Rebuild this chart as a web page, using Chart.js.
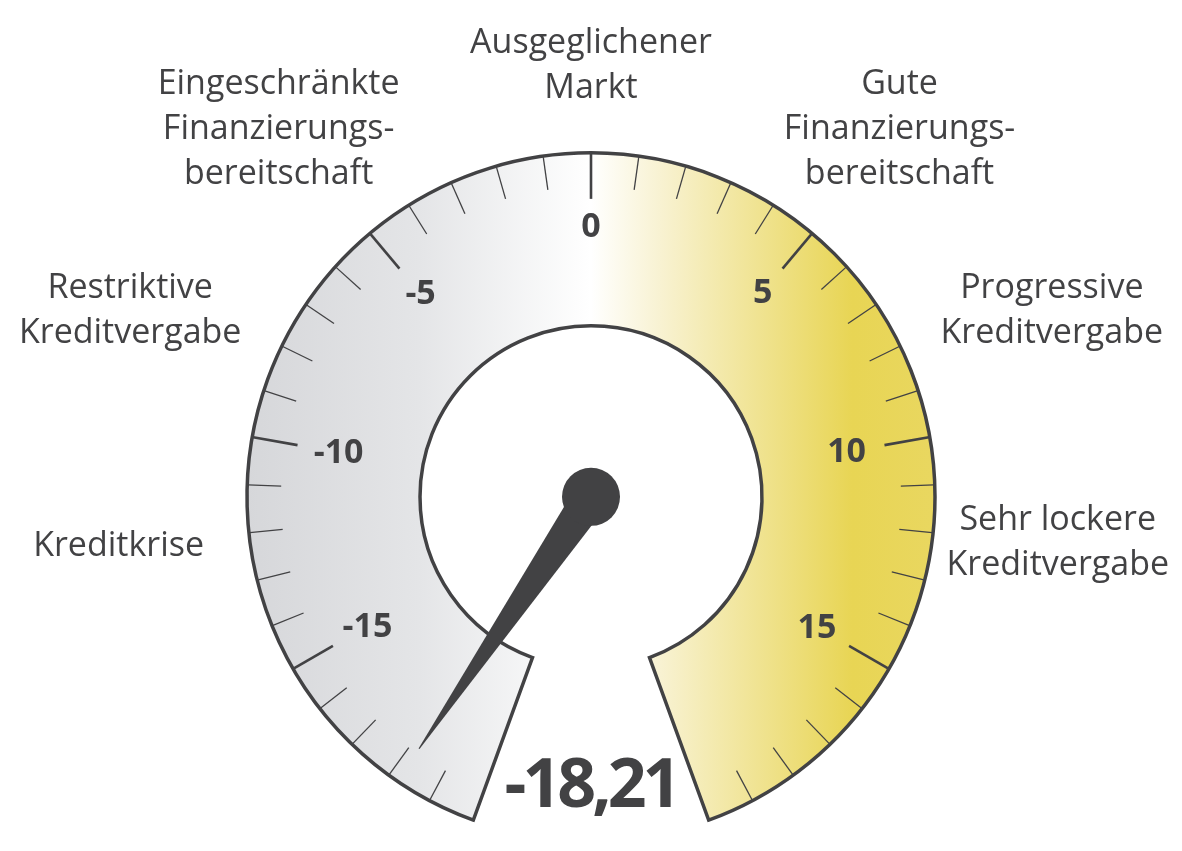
<!DOCTYPE html>
<html>
<head>
<meta charset="utf-8">
<script src="https://cdn.jsdelivr.net/npm/chart.js@4"></script>
<style>
  html, body { margin: 0; padding: 0; background: #fff; }
  #wrap { width: 1182px; height: 851px; }
</style>
</head>
<body>
<div id="wrap"><canvas id="gauge"></canvas></div>
<script>
// gauge range and reading
const gaugeMin = -20;
const gaugeMax = 20;
const currentValue = -18.21;
const valueText = "-18,21";

// scale: small tick every unit, labelled tick every 5
const minorStep = 1;
const tickValues = [-15, -10, -5, 0, 5, 10, 15];
const tickLabels = ["-15", "-10", "-5", "0", "5", "10", "15"];

// zone descriptions around the dial and where they sit on the scale
const zoneLabels = [
    ["Kreditkrise"],
    ["Restriktive", "Kreditvergabe"],
    ["Eingeschränkte", "Finanzierungs-", "bereitschaft"],
    ["Ausgeglichener", "Markt"],
    ["Gute", "Finanzierungs-", "bereitschaft"],
    ["Progressive", "Kreditvergabe"],
    ["Sehr lockere", "Kreditvergabe"]
];
const zoneValues = [-12, -8.5, -5.05, 0, 5, 8.5, 11.95];

// layout only
const zoneRadius = [475, 497, 482, 431, 480, 497, 469];
const ink = "#424244";
const RING_R = 344;
const HOLE_R = 171;

function ringGradient(context) {
    const chart = context.chart;
    const area = chart.chartArea;
    if (!area) return "#e0e0e0";
    const cx = (area.left + area.right) / 2;
    const g = chart.ctx.createLinearGradient(cx - RING_R, 0, cx + RING_R, 0);
    g.addColorStop(0, "#d6d7da");
    g.addColorStop(0.25, "#e4e5e7");
    g.addColorStop(0.5, "#ffffff");
    g.addColorStop(0.6, "#f8f2d2");
    g.addColorStop(0.88, "#e8d554");
    g.addColorStop(1, "#e9d760");
    return g;
}

const dialPlugin = {
    id: "dial",
    afterDatasetsDraw(chart) {
        const arc = chart.getDatasetMeta(0).data[0];
        const p = arc.getProps(["x", "y", "startAngle", "endAngle", "outerRadius", "innerRadius"], true);
        const ctx = chart.ctx;
        const angleOf = v => p.startAngle + (v - gaugeMin) / (gaugeMax - gaugeMin) * (p.endAngle - p.startAngle);
        const pt = (a, r) => [p.x + r * Math.cos(a), p.y + r * Math.sin(a)];

        ctx.save();
        ctx.strokeStyle = ink;
        ctx.lineCap = "butt";
        // ticks
        for (let v = gaugeMin + minorStep; v < gaugeMax; v += minorStep) {
            const major = tickValues.includes(v);
            const a = angleOf(v);
            const r0 = p.outerRadius - 1;
            const r1 = p.outerRadius - (major ? 46 : 34);
            const [x0, y0] = pt(a, r0);
            const [x1, y1] = pt(a, r1);
            ctx.lineWidth = major ? 2.6 : 1.3;
            ctx.beginPath();
            ctx.moveTo(x0, y0);
            ctx.lineTo(x1, y1);
            ctx.stroke();
        }
        // tick labels
        ctx.fillStyle = ink;
        ctx.font = "bold 34px 'Open Sans'";
        ctx.textAlign = "center";
        ctx.textBaseline = "middle";
        tickValues.forEach((v, i) => {
            const a = angleOf(v);
            const w = ctx.measureText(tickLabels[i]).width;
            const r = 271 - 0.6 * (w / 2) * Math.abs(Math.cos(a));
            const [tx, ty] = pt(a, r);
            ctx.fillText(tickLabels[i], tx, ty + 1);
        });

        // zone labels
        ctx.font = "34px 'Open Sans'";
        const lh = 45;
        zoneLabels.forEach((lines, i) => {
            const [zx, zy] = pt(angleOf(zoneValues[i]), zoneRadius[i]);
            const top = zy - (lines.length - 1) * lh / 2;
            lines.forEach((s, j) => ctx.fillText(s, zx, top + j * lh));
        });

        // needle
        const a = angleOf(currentValue);
        const [tipX, tipY] = pt(a, 305);
        const nx = Math.cos(a + Math.PI / 2), ny = Math.sin(a + Math.PI / 2);
        ctx.beginPath();
        ctx.moveTo(p.x + nx * 18, p.y + ny * 18);
        ctx.lineTo(tipX + nx * 0.6, tipY + ny * 0.6);
        ctx.lineTo(tipX - nx * 0.6, tipY - ny * 0.6);
        ctx.lineTo(p.x - nx * 18, p.y - ny * 18);
        ctx.closePath();
        ctx.fill();
        ctx.beginPath();
        ctx.arc(p.x, p.y, 29, 0, Math.PI * 2);
        ctx.fill();

        // reading
        ctx.font = "bold 68px 'Open Sans'";
        ctx.letterSpacing = "-4px";
        ctx.textBaseline = "alphabetic";
        ctx.fillText(valueText, p.x, 807);
        ctx.restore();
    }
};

new Chart(document.getElementById("gauge"), {
    type: "doughnut",
    data: {
        labels: ["Bereich"],
        datasets: [{
            data: [gaugeMax - gaugeMin],
            backgroundColor: ringGradient,
            borderColor: ink,
            borderWidth: 3.5,
            borderAlign: "center",
            borderJoinStyle: "miter",
            radius: RING_R,
            cutout: (HOLE_R / RING_R * 100) + "%"
        }]
    },
    options: {
        responsive: true,
        maintainAspectRatio: false,
        animation: false,
        events: [],
        rotation: -160,
        circumference: 320,
        layout: { padding: { left: 200, right: 200, top: 138, bottom: 16 } },
        plugins: { legend: { display: false }, tooltip: { enabled: false } }
    },
    plugins: [dialPlugin]
});
</script>
</body>
</html>
